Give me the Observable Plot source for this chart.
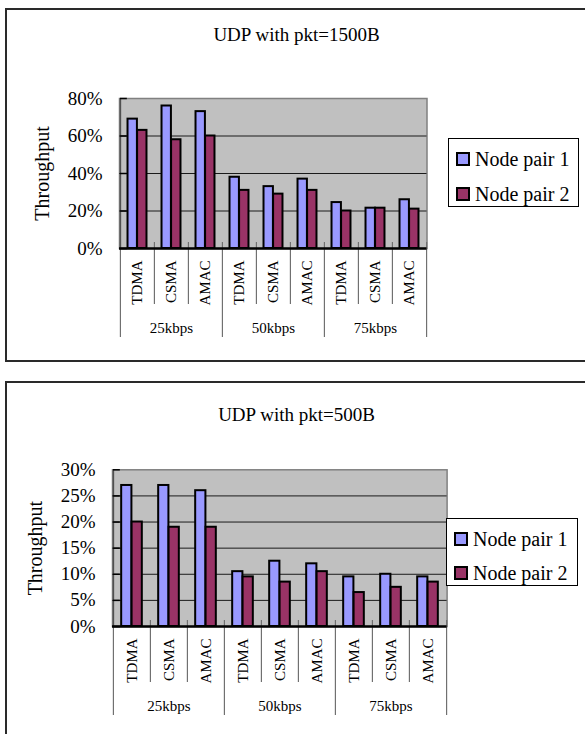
<!DOCTYPE html>
<html><head><meta charset="utf-8">
<script src="https://cdn.jsdelivr.net/npm/d3@7"></script>
<script src="https://cdn.jsdelivr.net/npm/@observablehq/plot@0.6"></script>
<style>
html,body{margin:0;padding:0;background:#fff;}
body{width:585px;height:734px;overflow:hidden;position:relative;font-family:"Liberation Serif","DejaVu Serif",serif;color:#000;}
.box{position:absolute;left:5px;width:640px;border:2px solid #2a2a2a;box-sizing:border-box;}
.title{position:absolute;left:4px;width:585px;text-align:center;font-size:19px;line-height:20px;white-space:nowrap;}
.chart{position:absolute;left:0;}
.legend{position:absolute;border:1px solid #000;background:#fff;box-sizing:border-box;}
.sw{position:absolute;left:7px;width:14px;height:14px;border:2px solid #000;box-sizing:border-box;}
.lt{position:absolute;left:26px;font-size:20px;line-height:20px;white-space:nowrap;}
</style></head><body>
<script>
const groups = ["25kbps", "50kbps", "75kbps"];
const methods = ["TDMA", "CSMA", "AMAC"];
const seriesNames = ["Node pair 1", "Node pair 2"];
const seriesColors = ["#9999FF", "#993366"];
const yTicks1500 = [0, 20, 40, 60, 80];
const yTicks500 = [0, 5, 10, 15, 20, 25, 30];
// UDP with pkt=1500B, throughput %
const pkt1500Pair1 = [69, 76, 73, 38, 33, 37, 24.5, 21.5, 26];
const pkt1500Pair2 = [63, 58, 60, 31, 29, 31, 20, 21.5, 21];
// UDP with pkt=500B, throughput %
const pkt500Pair1 = [27, 27, 26, 10.5, 12.5, 12, 9.5, 10, 9.5];
const pkt500Pair2 = [20, 19, 19, 9.5, 8.5, 10.5, 6.5, 7.5, 8.5];

const categories = groups.flatMap(g => methods.map(m => ({key: g + " " + m, group: g, method: m})));
const keys = categories.map(c => c.key);
const methodOf = new Map(categories.map(c => [c.key, c.method]));

function rowsFor(v1, v2) {
  return categories.flatMap((c, i) => [
    {key: c.key, series: seriesNames[0], value: v1[i]},
    {key: c.key, series: seriesNames[1], value: v2[i]}
  ]);
}

function drawChart(cfg) {
  const W = 585, H = 352;
  const step = (W - cfg.ml - cfg.mr) / keys.length;
  const outer = step * 0.22, half = step / 2;
  const rows = rowsFor(cfg.p1, cfg.p2);
  const innerSeps = keys.filter((k, i) => i % methods.length !== 0);
  const groupSeps = keys.filter((k, i) => i % methods.length === 0);
  const lastKey = keys[keys.length - 1];
  const sepStroke = "#707070";

  const box = document.createElement("div");
  box.className = "box";
  box.style.top = cfg.boxTop + "px";
  box.style.height = cfg.boxHeight + "px";
  document.body.appendChild(box);

  const plot = Plot.plot({
    width: W, height: H,
    marginLeft: cfg.ml, marginRight: cfg.mr, marginTop: cfg.mt, marginBottom: cfg.mb,
    style: {fontFamily: "'Liberation Serif', 'DejaVu Serif', serif", background: "transparent", color: "black", overflow: "visible"},
    x: {type: "band", domain: keys, padding: 0, axis: null},
    y: {domain: [0, cfg.yTicks[cfg.yTicks.length - 1]], axis: null},
    color: {domain: seriesNames, range: seriesColors},
    marks: [
      Plot.frame({fill: "#C0C0C0", stroke: "#808080", strokeWidth: 1.5}),
      Plot.ruleY(cfg.yTicks.slice(1, -1), {stroke: "#1a1a1a", strokeWidth: 1}),
      Plot.barY(rows.filter(d => d.series === seriesNames[0]), {x: "key", y: "value", fill: "series", stroke: "black", strokeWidth: 2, insetLeft: outer, insetRight: half}),
      Plot.barY(rows.filter(d => d.series === seriesNames[1]), {x: "key", y: "value", fill: "series", stroke: "black", strokeWidth: 2, insetLeft: half, insetRight: outer}),
      Plot.ruleX(innerSeps, {x: d => d, y1: 0, y2: 0, dx: -half, insetTop: -6, insetBottom: -56, stroke: sepStroke, strokeWidth: 1.2}),
      Plot.ruleX(groupSeps, {x: d => d, y1: 0, y2: 0, dx: -half, insetTop: -6, insetBottom: -89, stroke: sepStroke, strokeWidth: 1.2}),
      Plot.ruleX([lastKey], {x: d => d, y1: 0, y2: 0, dx: half, insetTop: -6, insetBottom: -89, stroke: sepStroke, strokeWidth: 1.2}),
      Plot.ruleX([keys[0]], {x: d => d, dx: -half, stroke: "#505050", strokeWidth: 1.5}),
      Plot.tickY(cfg.yTicks, {y: d => d, x: () => keys[0], insetRight: step - 7, stroke: "black", strokeWidth: 1.5}),
      Plot.ruleY([0], {stroke: "black", strokeWidth: 2.5}),
      Plot.axisY(cfg.yTicks, {tickSize: 0, tickPadding: 17, tickFormat: d => d + "%", fontSize: 19, label: null}),
      Plot.axisX(keys, {tickSize: 0, tickPadding: 12, tickRotate: -90, tickFormat: k => methodOf.get(k), fontSize: 15, label: null}),
      Plot.text(groups, {x: g => g + " " + methods[1], frameAnchor: "bottom", lineAnchor: "middle", dy: 80, fontSize: 15}),
      Plot.text(["Throughput"], {frameAnchor: "left", rotate: -90, textAnchor: "middle", lineAnchor: "middle", dx: -77, fontSize: 20})
    ]
  });
  plot.classList.add("chart");
  plot.style.top = cfg.svgTop + "px";
  document.body.appendChild(plot);

  const title = document.createElement("div");
  title.className = "title";
  title.style.top = (cfg.titleY - 10) + "px";
  title.textContent = cfg.title;
  document.body.appendChild(title);

  const lg = document.createElement("div");
  lg.className = "legend";
  Object.assign(lg.style, {left: cfg.lg[0] + "px", top: cfg.lg[1] + "px", width: cfg.lg[2] + "px", height: cfg.lg[3] + "px"});
  seriesNames.forEach((s, i) => {
    const cy = cfg.lgRows[i];
    const sw = document.createElement("div");
    sw.className = "sw";
    sw.style.top = (cy - 7) + "px";
    sw.style.background = seriesColors[i];
    const t = document.createElement("div");
    t.className = "lt";
    t.style.top = (cy - 10) + "px";
    t.textContent = s;
    lg.appendChild(sw);
    lg.appendChild(t);
  });
  document.body.appendChild(lg);
}

drawChart({
  title: "UDP with pkt=1500B", p1: pkt1500Pair1, p2: pkt1500Pair2, yTicks: yTicks1500,
  boxTop: 8, boxHeight: 354, svgTop: 9, titleY: 35,
  ml: 119, mr: 158.5, mt: 89, mb: 113,
  lg: [448, 138, 131, 69], lgRows: [20, 55]
});
drawChart({
  title: "UDP with pkt=500B", p1: pkt500Pair1, p2: pkt500Pair2, yTicks: yTicks500,
  boxTop: 381, boxHeight: 400, svgTop: 382, titleY: 415,
  ml: 112, mr: 138.4, mt: 87.3, mb: 108,
  lg: [446, 518, 132, 68], lgRows: [20, 54]
});
</script>
</body></html>
